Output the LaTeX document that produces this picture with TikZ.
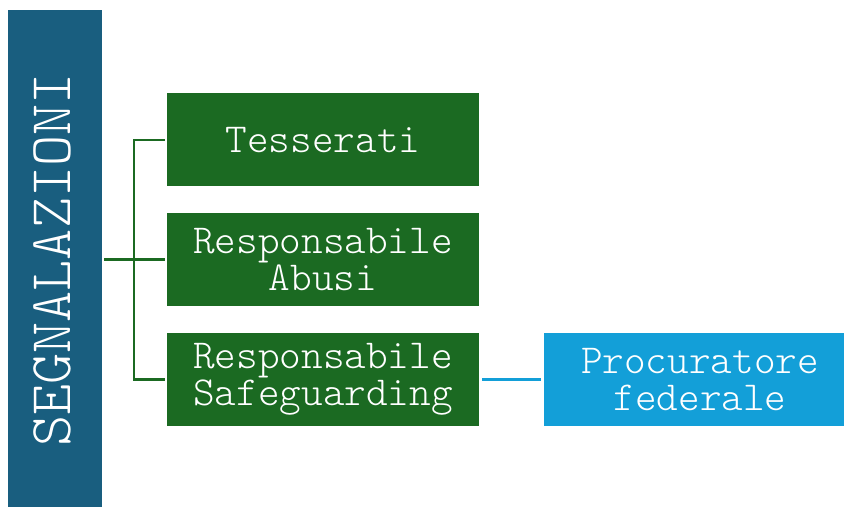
\documentclass[tikz,border=0pt]{standalone}
\usepackage{fontspec}
\setmonofont{Latin Modern Mono Light}
\definecolor{barblue}{HTML}{195E7F}
\definecolor{boxgreen}{HTML}{1B6A22}
\definecolor{boxcyan}{HTML}{139FD8}
\begin{document}
\begin{tikzpicture}[x=0.5pt, y=-0.5pt,
    greenbox/.style={fill=boxgreen, text=white, inner sep=0pt, outer sep=0pt,
        minimum width=156pt, minimum height=46.5pt, align=center,
        font=\ttfamily\fontsize{20.6}{18.7}\selectfont},
    cyanbox/.style={greenbox, fill=boxcyan, minimum width=150pt},
    greenline/.style={draw=boxgreen, line width=1.2pt},
    cyanline/.style={draw=boxcyan, line width=1.2pt}]

\useasboundingbox (0,0) rectangle (844,507);

\path (55,258.5) node[fill=barblue, inner sep=0pt, outer sep=0pt,
    minimum width=47pt, minimum height=248.5pt] (bar) {};
\path (52,260) node[rotate=90, text=white,
    font=\ttfamily\fontsize{29.6}{30}\selectfont] (title) {SEGNALAZIONI};

\path (323,140) node[greenbox] (tess) {Tesserati};
\path (323,259.5) node[greenbox] (abusi) {Responsabile\\Abusi};
\path (323,379.5) node[greenbox] (safe) {Responsabile\\Safeguarding};
\path (694,379.5) node[cyanbox] (proc)
    {\hspace*{6pt}Procuratore\\\hspace*{6pt}federale};

\coordinate (spine) at (134,260);
\draw[greenline] ([xshift=1pt]bar.east |- abusi.west) -- ([xshift=-1pt]abusi.west);
\draw[greenline] ([xshift=-1pt]tess.west) -| (spine) |- ([xshift=-1pt]safe.west);
\draw[cyanline] ([xshift=1.5pt]safe.east) -- ([xshift=-1.5pt]proc.west);

\end{tikzpicture}
\end{document}
